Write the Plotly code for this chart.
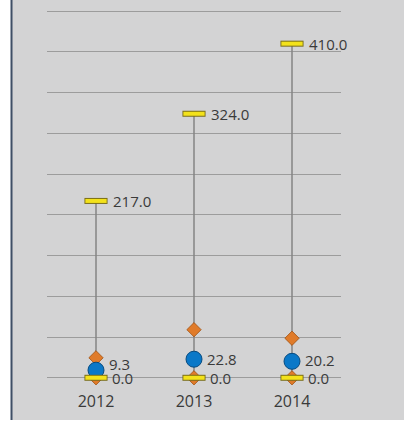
import plotly.graph_objects as go

categories = ["2012", "2013", "2014"]
high_vals = [217.0, 324.0, 410.0]
low_vals = [0.0, 0.0, 0.0]
circle_vals = [9.3, 22.8, 20.2]
diamond_vals = [24.5, 59.0, 48.5]

FONT = "Open Sans"
TXT = "#3a3a3a"

fig = go.Figure()

# high-low lines
lx, ly = [], []
for c, lo, hi in zip(categories, low_vals, high_vals):
    lx += [c, c, None]
    ly += [lo, hi, None]
fig.add_trace(go.Scatter(x=lx, y=ly, mode="lines",
                         line=dict(color="#858585", width=1.5),
                         hoverinfo="skip", cliponaxis=False))

dmark = dict(symbol="diamond", size=11, color="#e07b2a",
             line=dict(color="#a05010", width=0.8))
fig.add_trace(go.Scatter(x=categories, y=low_vals, mode="markers",
                         marker=dmark, cliponaxis=False))
fig.add_trace(go.Scatter(x=categories, y=diamond_vals, mode="markers",
                         marker=dmark, cliponaxis=False))

# blue circles
fig.add_trace(go.Scatter(x=categories, y=circle_vals, mode="markers",
                         marker=dict(symbol="circle", size=16, color="#0a78c8",
                                     line=dict(color="#064a80", width=1)),
                         cliponaxis=False))

# yellow bars for high and low
for vals in (high_vals, low_vals):
    fig.add_trace(go.Scatter(x=categories, y=vals, mode="markers",
                             marker=dict(symbol="line-ew", size=16.5,
                                         line=dict(color="#7a6e18", width=6)),
                             cliponaxis=False))
    fig.add_trace(go.Scatter(x=categories, y=vals, mode="markers",
                             marker=dict(symbol="line-ew", size=15.2,
                                         line=dict(color="#f3e21b", width=4)),
                             cliponaxis=False))

def labels(vals, xshift, yshifts):
    for i, (v, ys) in enumerate(zip(vals, yshifts)):
        fig.add_annotation(x=i, y=v, text=f"{v:.1f}", showarrow=False,
                           xref="x", yref="y",
                           xanchor="left", yanchor="middle",
                           xshift=xshift, yshift=ys,
                           font=dict(family=FONT, size=15, color=TXT))

labels(high_vals, 15, [0, 0, 0])
labels(low_vals, 14, [0, 0, 0])
labels(circle_vals, 11, [6, 0, 1])

L, R, T, B = 47, 64, 7, 33
W, H = 405, 423
pw = W - L - R
ph = H - T - B

def px_x(p):
    return (p - L) / pw

def px_y(p):
    return (H - B - p) / ph

fig.add_shape(type="rect", xref="paper", yref="paper",
              x0=px_x(11), x1=px_x(404), y0=px_y(420), y1=px_y(-5),
              fillcolor="#d3d3d4", line=dict(width=0), layer="below")
fig.add_shape(type="line", xref="paper", yref="paper",
              x0=px_x(11.5), x1=px_x(11.5), y0=px_y(420), y1=px_y(-5),
              line=dict(color="#3f4f66", width=2), layer="below")

fig.update_layout(
    width=W, height=H,
    margin=dict(l=L, r=R, t=T, b=B),
    paper_bgcolor="white",
    plot_bgcolor="#d3d3d4",
    showlegend=False,
    xaxis=dict(type="category", range=[-0.5, 2.5], showgrid=False,
               zeroline=False, showline=False, ticks="",
               tickfont=dict(family=FONT, size=16, color=TXT)),
    yaxis=dict(range=[-15, 455], dtick=50, showgrid=True,
               gridcolor="#9c9c9c", gridwidth=1,
               zeroline=True, zerolinecolor="#9c9c9c", zerolinewidth=1,
               showticklabels=False, showline=False, ticks=""),
)

fig.write_html("out.html")
